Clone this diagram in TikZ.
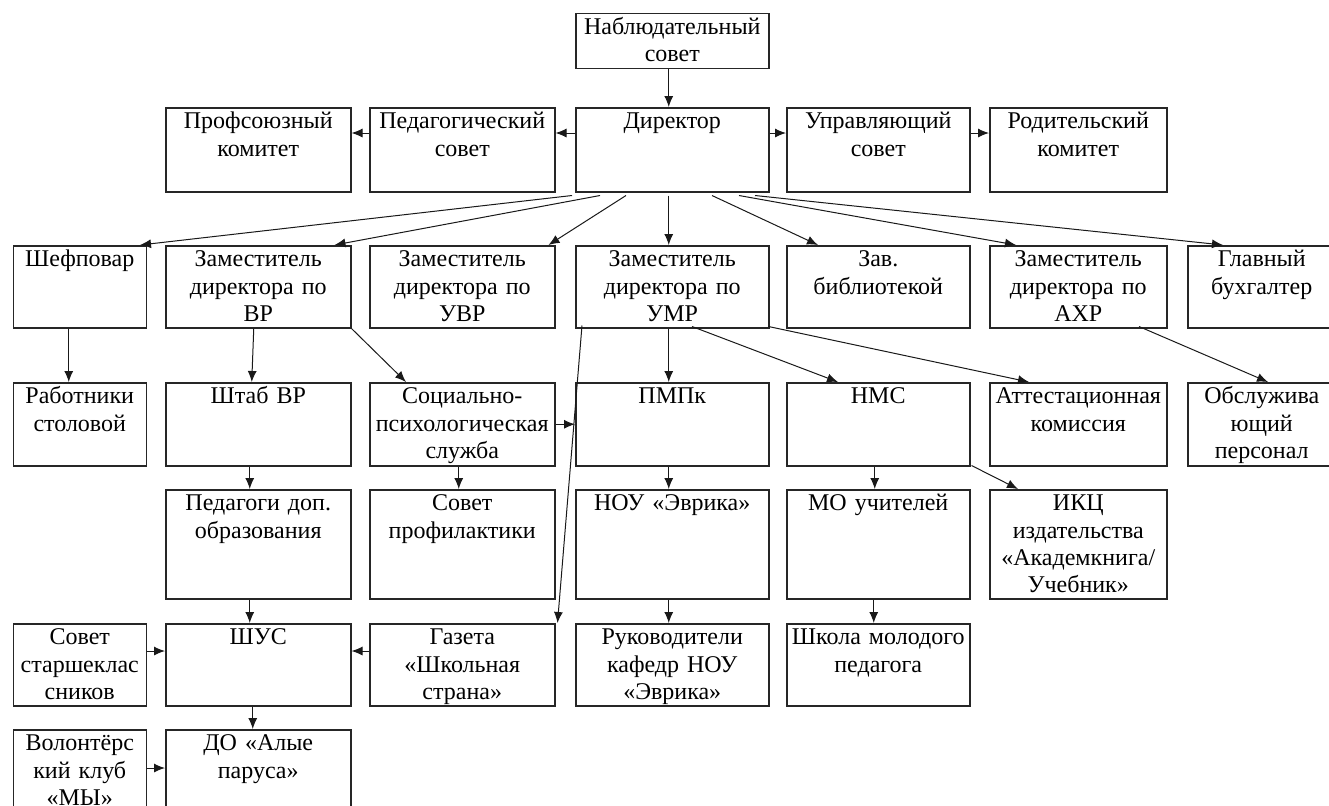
\documentclass[tikz,border=0pt]{standalone}
\usepackage{fontspec}
\setmainfont{Liberation Serif}
\usetikzlibrary{calc,arrows.meta}

\tikzset{
  blok/.style 2 args={draw=black!85, line width=0.75pt, anchor=north west,
    inner sep=0pt, text width=#1, text height=10.5pt, text depth=#2,
    align=center, font=\fontsize{12}{13.7}\selectfont},
  strel/.style={-{Latex[length=5.5pt,width=4.5pt]}, line width=0.5pt, draw=black!90}
}

\begin{document}
\begin{tikzpicture}[x=0.5pt, y=-0.5pt]
	\useasboundingbox (0,0) rectangle (1329,805);
	% руководство
	\node[blok={96.5pt}{17pt}] (nab) at (575,12.7) {Наблюдательный\\совет};
	\node[blok={92.5pt}{31.5pt}] (profkom) at (165,107) {Профсоюзный\\комитет};
	\node[blok={92.5pt}{31.5pt}] (pedsov) at (369,107) {Педагогический\\совет};
	\node[blok={96.5pt}{31.5pt}] (dir) at (575,107) {Директор};
	\node[blok={91.5pt}{31.5pt}] (uprsov) at (786,107) {Управляющий\\совет};
	\node[blok={88.5pt}{31.5pt}] (rodkom) at (989,107) {Родительский\\комитет};
	% заместители
	\node[blok={66.5pt}{30.5pt}] (shef) at (12.5,245) {Шефповар};
	\node[blok={92.5pt}{30.5pt}] (zamvr) at (165,245) {Заместитель\\директора по\\ВР};
	\node[blok={92.5pt}{30.5pt}] (zamuvr) at (369,245) {Заместитель\\директора по\\УВР};
	\node[blok={96.5pt}{30.5pt}] (zamumr) at (575,245) {Заместитель\\директора по\\УМР};
	\node[blok={91.5pt}{30.5pt}] (bibl) at (786,245) {Зав.\\библиотекой};
	\node[blok={88.5pt}{30.5pt}] (zamahr) at (989,245) {Заместитель\\директора по\\АХР};
	\node[blok={74pt}{30.5pt}] (buh) at (1187,245) {Главный\\бухгалтер};
	% службы
	\node[blok={66.5pt}{31pt}] (rabst) at (12.5,382) {Работники\\столовой};
	\node[blok={92.5pt}{31pt}] (shtab) at (165,382) {Штаб ВР};
	\node[blok={92.5pt}{31pt}] (socps) at (369,382) {Социально-\\психологическая\\служба};
	\node[blok={96.5pt}{31pt}] (pmpk) at (575,382) {ПМПк};
	\node[blok={91.5pt}{31pt}] (nms) at (786,382) {НМС};
	\node[blok={88.5pt}{31pt}] (attest) at (989,382) {Аттестационная\\комиссия};
	\node[blok={74pt}{31pt}] (obsl) at (1187,382) {Обслужива\\ющий\\персонал};
	\node[blok={92.5pt}{44pt}] (peddop) at (165,489) {Педагоги доп.\\образования};
	\node[blok={92.5pt}{44pt}] (profil) at (369,489) {Совет\\профилактики};
	\node[blok={96.5pt}{44pt}] (nou) at (575,489) {НОУ «Эврика»};
	\node[blok={91.5pt}{44pt}] (mo) at (786,489) {МО учителей};
	\node[blok={88.5pt}{44pt}] (ikc) at (989,489) {ИКЦ\\издательства\\«Академкнига/\\Учебник»};
	\node[blok={66.5pt}{30.5pt}] (sovst) at (12.5,623) {Совет\\старшеклас\\сников};
	\node[blok={92.5pt}{30.5pt}] (shus) at (165,623) {ШУС};
	\node[blok={92.5pt}{30.5pt}] (gazeta) at (369,623) {Газета\\«Школьная\\страна»};
	\node[blok={96.5pt}{30.5pt}] (ruk) at (575,623) {Руководители\\кафедр НОУ\\«Эврика»};
	\node[blok={91.5pt}{30.5pt}] (shmp) at (786,623) {Школа молодого\\педагога};
	\node[blok={66.5pt}{34.5pt}] (volont) at (12.5,729) {Волонтёрс\\кий клуб\\«МЫ»};
	\node[blok={92.5pt}{34.5pt}] (alye) at (165,729) {ДО «Алые\\паруса»};

	% связи
	\draw[strel] ($(nab.south)+(-3.5,0)$) -- ($(dir.north)+(-3.5,0)$);
	\draw[strel] ($(dir.north west)+(0,26)$) -- ($(pedsov.north east)+(0,26)$);
	\draw[strel] ($(pedsov.north west)+(0,26)$) -- ($(profkom.north east)+(0,26)$);
	\draw[strel] ($(dir.north east)+(0,26)$) -- ($(uprsov.north west)+(0,26)$);
	\draw[strel] ($(uprsov.north east)+(0,26)$) -- ($(rodkom.north west)+(0,26)$);
	\draw[strel] ($(dir.south west)+(-3,3)$) -- ($(shef.north east)+(-7,0)$);
	\draw[strel] ($(dir.south west)+(25,3)$) -- ($(zamvr.north east)+(-17,0)$);
	\draw[strel] ($(dir.south west)+(51,3)$) -- ($(zamuvr.north east)+(-7,0)$);
	\draw[strel] ($(dir.south)+(-3.5,3)$) -- ($(zamumr.north)+(-3.5,0)$);
	\draw[strel] ($(dir.south west)+(137,3)$) -- ($(bibl.north west)+(32,0)$);
	\draw[strel] ($(dir.south west)+(164,3)$) -- ($(zamahr.north west)+(27,0)$);
	\draw[strel] ($(dir.south west)+(180,3)$) -- ($(buh.north west)+(36,0)$);
	\foreach \a/\b/\dx in {shef/rabst/-11, shtab/peddop/-8.5, socps/profil/-3.5,
	    zamumr/pmpk/-3.5, pmpk/nou/-3.5, nms/mo/-3.5, peddop/shus/-8.5,
	    nou/ruk/-3.5, mo/shmp/-4.5, shus/alye/-5.5}
		\draw[strel] ($(\a.south)+(\dx,0)$) -- ($(\b.north)+(\dx,0)$);
	\draw[strel] ($(zamvr.south)+(-4.5,0)$) -- ($(shtab.north)+(-6.5,0)$);
	\draw[strel] (zamvr.south east) -- ($(socps.north west)+(37,0)$);
	\draw[strel] (socps.east) -- (pmpk.west);
	\draw[strel] ($(zamumr.south west)+(7,-3)$) -- ($(gazeta.north east)+(2,0)$);
	\draw[strel] ($(zamumr.south west)+(117,-2)$) -- ($(nms.north west)+(52,0)$);
	\draw[strel] ($(zamumr.south east)+(-1,-2)$) -- ($(attest.north west)+(40,0)$);
	\draw[strel] ($(zamahr.south west)+(150,-2)$) -- ($(obsl.north west)+(81,0)$);
	\draw[strel] ($(nms.south east)+(1,-1)$) -- ($(ikc.north west)+(29,0)$);
	\draw[strel] ($(sovst.north east)+(0,28)$) -- ($(shus.north west)+(0,28)$);
	\draw[strel] ($(gazeta.north west)+(0,28)$) -- ($(shus.north east)+(0,28)$);
	\draw[strel] ($(volont.north east)+(0,39)$) -- ($(alye.north west)+(0,39)$);
\end{tikzpicture}
\end{document}
